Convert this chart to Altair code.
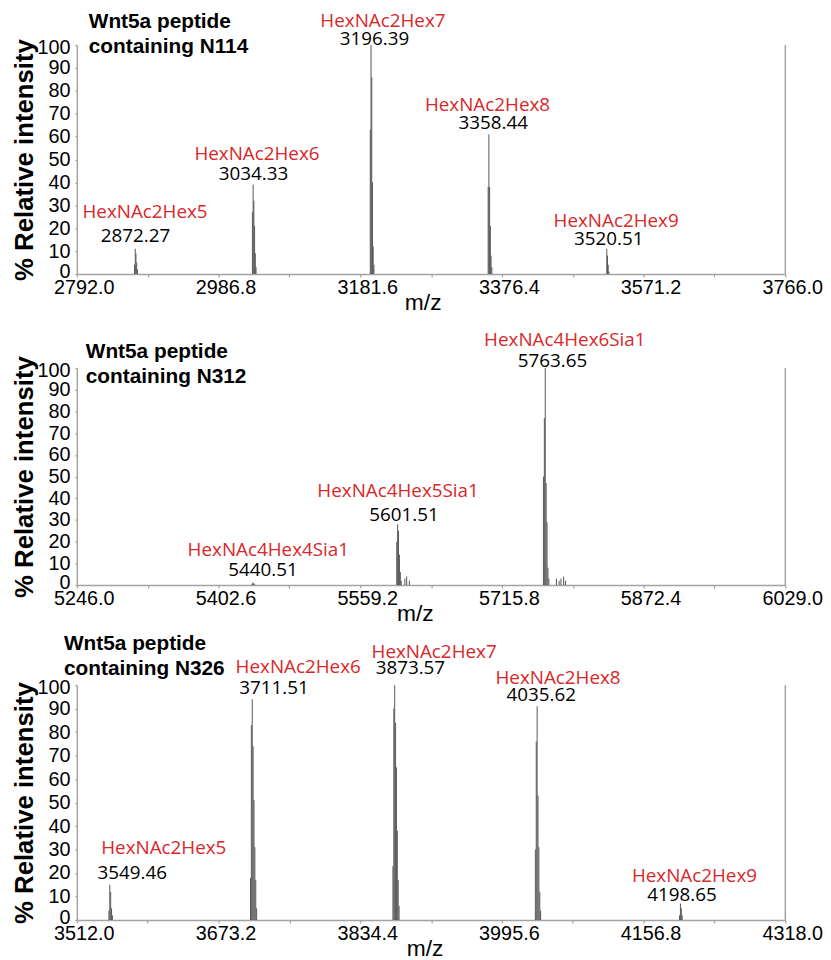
import altair as alt
import pandas as pd

# ---------------- data ----------------
# Panel 1: Wnt5a peptide containing N114
n114_title = ["Wnt5a peptide", "containing N114"]
n114_ticks = [2792.0, 2986.8, 3181.6, 3376.4, 3571.2, 3766.0]
n114_mz = [2871.27, 2872.27, 2873.27, 2874.27, 2875.27,
           3033.33, 3034.33, 3035.33, 3036.33, 3037.33, 3038.33,
           3195.39, 3196.39, 3197.39, 3198.39, 3199.39, 3200.39,
           3357.44, 3358.44, 3359.44, 3360.44, 3361.44, 3362.44,
           3520.51, 3521.51, 3522.51, 3523.51]
n114_int = [4, 11, 9, 5, 2,
            27, 39, 32, 21, 9, 3,
            63, 100, 86, 40, 12, 4,
            38, 61, 38, 21, 8, 3,
            11, 8, 4, 1]
n114_glycans = ["HexNAc2Hex5", "HexNAc2Hex6", "HexNAc2Hex7", "HexNAc2Hex8", "HexNAc2Hex9"]
n114_masses = ["2872.27", "3034.33", "3196.39", "3358.44", "3520.51"]
n114_glycan_x = [2885.7, 3039.6, 3212.8, 3356.5, 3533.4]
n114_glycan_y = [27.1, 52.4, 110.4, 73.7, 23.2]
n114_mass_x = [2872.5, 3034.8, 3201.2, 3364.5, 3523.1]
n114_mass_y = [16.7, 43.7, 102.8, 65.8, 15.4]

# Panel 2: Wnt5a peptide containing N312
n312_title = ["Wnt5a peptide", "containing N312"]
n312_ticks = [5246.0, 5402.6, 5559.2, 5715.8, 5872.4, 6029.0]
n312_mz = [5439.51, 5440.51, 5441.51, 5442.51,
           5599.51, 5600.51, 5601.51, 5602.51, 5603.51, 5604.51, 5608.5, 5610.5, 5613.5,
           5761.65, 5762.65, 5763.65, 5764.65, 5765.65, 5766.65, 5767.65,
           5776.0, 5779.0, 5781.0, 5784.0, 5786.0]
n312_int = [0.5, 1.2, 0.9, 0.4,
            20, 28, 25, 14, 6, 2, 3, 4, 2,
            50, 77, 100, 47, 29, 8, 3,
            3, 2, 3, 4, 2]
n312_glycans = ["HexNAc4Hex4Sia1", "HexNAc4Hex5Sia1", "HexNAc4Hex6Sia1"]
n312_masses = ["5440.51", "5601.51", "5763.65"]
n312_glycan_x = [5457.6, 5601.0, 5785.3]
n312_glycan_y = [16.2, 43.4, 113.0]
n312_mass_x = [5451.6, 5607.5, 5771.6]
n312_mass_y = [7.1, 32.2, 103.3]

# Panel 3: Wnt5a peptide containing N326
n326_title = ["Wnt5a peptide", "containing N326"]
n326_ticks = [3512.0, 3673.2, 3834.4, 3995.6, 4156.8, 4318.0]
n326_mz = [3548.46, 3549.46, 3550.46, 3551.46, 3552.46,
           3709.51, 3710.51, 3711.51, 3712.51, 3713.51, 3714.51, 3715.51, 3716.51,
           3871.57, 3872.57, 3873.57, 3874.57, 3875.57, 3876.57, 3877.57, 3878.57,
           4033.62, 4034.62, 4035.62, 4036.62, 4037.62, 4038.62, 4039.62,
           4197.65, 4198.65, 4199.65, 4200.65]
n326_int = [4, 15, 12, 5, 2,
            18, 83, 94, 74, 51, 31, 17, 5,
            23, 90, 100, 84, 65, 38, 17, 6,
            30, 76, 91, 53, 31, 12, 4,
            2, 7, 5, 2]
n326_glycans = ["HexNAc2Hex5", "HexNAc2Hex6", "HexNAc2Hex7", "HexNAc2Hex8", "HexNAc2Hex9"]
n326_masses = ["3549.46", "3711.51", "3873.57", "4035.62", "4198.65"]
n326_glycan_x = [3610.9, 3763.8, 3918.4, 4059.4, 4214.6]
n326_glycan_y = [30.8, 107.8, 114.3, 103.2, 18.6]
n326_mass_x = [3574.9, 3736.3, 3891.4, 4040.3, 4200.5]
n326_mass_y = [20.0, 98.7, 107.4, 96.0, 10.8]

y_ticks = list(range(0, 101, 10))

# ---------------- style ----------------
FONT = "Liberation Sans"
LABEL_FONT = "Open Sans"
RED = "#d8282a"
AXIS_GRAY = "#a3a3a3"
STICK = "#575757"


def panel(title_lines, ticks, mz, inten, glycans, masses, gx, gy, mx, my,
          width, height, title_dx, title_offset, xtitle_x, top_gap=0):
    xs = alt.Scale(domain=[ticks[0], ticks[-1]], nice=False, zero=False)
    ys = alt.Scale(domain=[0, 100], nice=False, zero=True, range=[height, top_gap])
    step = ticks[1] - ticks[0]
    tick_vals = sorted(ticks + [round(t + step / 2, 2) for t in ticks[:-1]])
    expr = (f"abs((datum.value - {ticks[0]}) / {step} - round((datum.value - {ticks[0]}) / {step})) < 0.01"
            f" ? format(datum.value, '.1f') : ''")
    xaxis = alt.Axis(values=tick_vals, tickCount=len(tick_vals) + 5, labelExpr=expr,
                     title="m/z", titleX=xtitle_x, titleY=29,
                     titleBaseline="middle", titleFontSize=23, titleFontWeight="normal",
                     labelFontSize=20, labelPadding=1, labelOffset=7, labelFlush=False,
                     labelOverlap=False, tickSize=3, grid=False)
    yaxis = alt.Axis(values=y_ticks, tickCount=len(y_ticks) + 5, title="% Relative intensity",
                     titleFontSize=26, titleFontWeight="bold", titlePadding=-0.5,
                     labelFontSize=20, labelPadding=5, tickSize=2, labelFlush=True,
                     labelFlushOffset=7.5, labelOverlap=False, grid=False)

    sticks = pd.DataFrame({"mz": mz, "intensity": inten})
    border = pd.DataFrame({"mz": [ticks[-1]], "intensity": [y_ticks[-1]]})
    glyc = pd.DataFrame({"mz": gx, "intensity": gy, "t": glycans})
    mass = pd.DataFrame({"mz": mx, "intensity": my, "t": masses})

    base_rule = alt.Chart(sticks).mark_rule(color=STICK, strokeWidth=1).encode(
        x=alt.X("mz:Q", scale=xs, axis=xaxis),
        y=alt.Y("intensity:Q", scale=ys, axis=yaxis),
        y2=alt.datum(0),
    )
    border_rule = alt.Chart(border).mark_rule(color=AXIS_GRAY, strokeWidth=1.5).encode(
        x=alt.X("mz:Q", scale=xs),
        y=alt.Y("intensity:Q", scale=ys),
        y2=alt.datum(0),
    )
    red_txt = alt.Chart(glyc).mark_text(font=LABEL_FONT, fontSize=19, color=RED,
                                        align="center", baseline="middle").encode(
        x=alt.X("mz:Q", scale=xs),
        y=alt.Y("intensity:Q", scale=ys),
        text="t:N",
    )
    blk_txt = alt.Chart(mass).mark_text(font=LABEL_FONT, fontSize=19, color="black",
                                        align="center", baseline="middle").encode(
        x=alt.X("mz:Q", scale=xs),
        y=alt.Y("intensity:Q", scale=ys),
        text="t:N",
    )
    title = alt.TitleParams(text=title_lines, anchor="start", frame="group", dx=title_dx,
                            offset=title_offset, fontSize=21, font=FONT, fontWeight="bold",
                            lineHeight=25.5, baseline="bottom", color="black")
    return alt.layer(base_rule, border_rule, red_txt, blk_txt).properties(
        width=width, height=height, title=title)


p1 = panel(n114_title, n114_ticks, n114_mz, n114_int, n114_glycans, n114_masses,
           n114_glycan_x, n114_glycan_y, n114_mass_x, n114_mass_y,
           715, 231, 12, -66.2, 349)
p2 = panel(n312_title, n312_ticks, n312_mz, n312_int, n312_glycans, n312_masses,
           n312_glycan_x, n312_glycan_y, n312_mass_x, n312_mass_y,
           715, 219, 9, -77.7, 341)
p3 = panel(n326_title, n326_ticks, n326_mz, n326_int, n326_glycans, n326_masses,
           n326_glycan_x, n326_glycan_y, n326_mass_x, n326_mass_y,
           715, 243, -13, -57.7, 351, top_gap=6)

chart = alt.vconcat(p1, p2, p3, spacing=95, bounds="flush").properties(
    padding={"left": 3.5, "top": -2, "right": 0, "bottom": 0}
).configure_view(stroke=None).configure_axis(
    domainColor=AXIS_GRAY, tickColor=AXIS_GRAY, domainWidth=1.5, tickWidth=1.2,
    labelFont=FONT, titleFont=FONT, labelColor="black", titleColor="black",
    labelOverlap=False
).configure_title(font=FONT)

chart.save("out.html", embed_options={"renderer": "svg", "actions": False})
